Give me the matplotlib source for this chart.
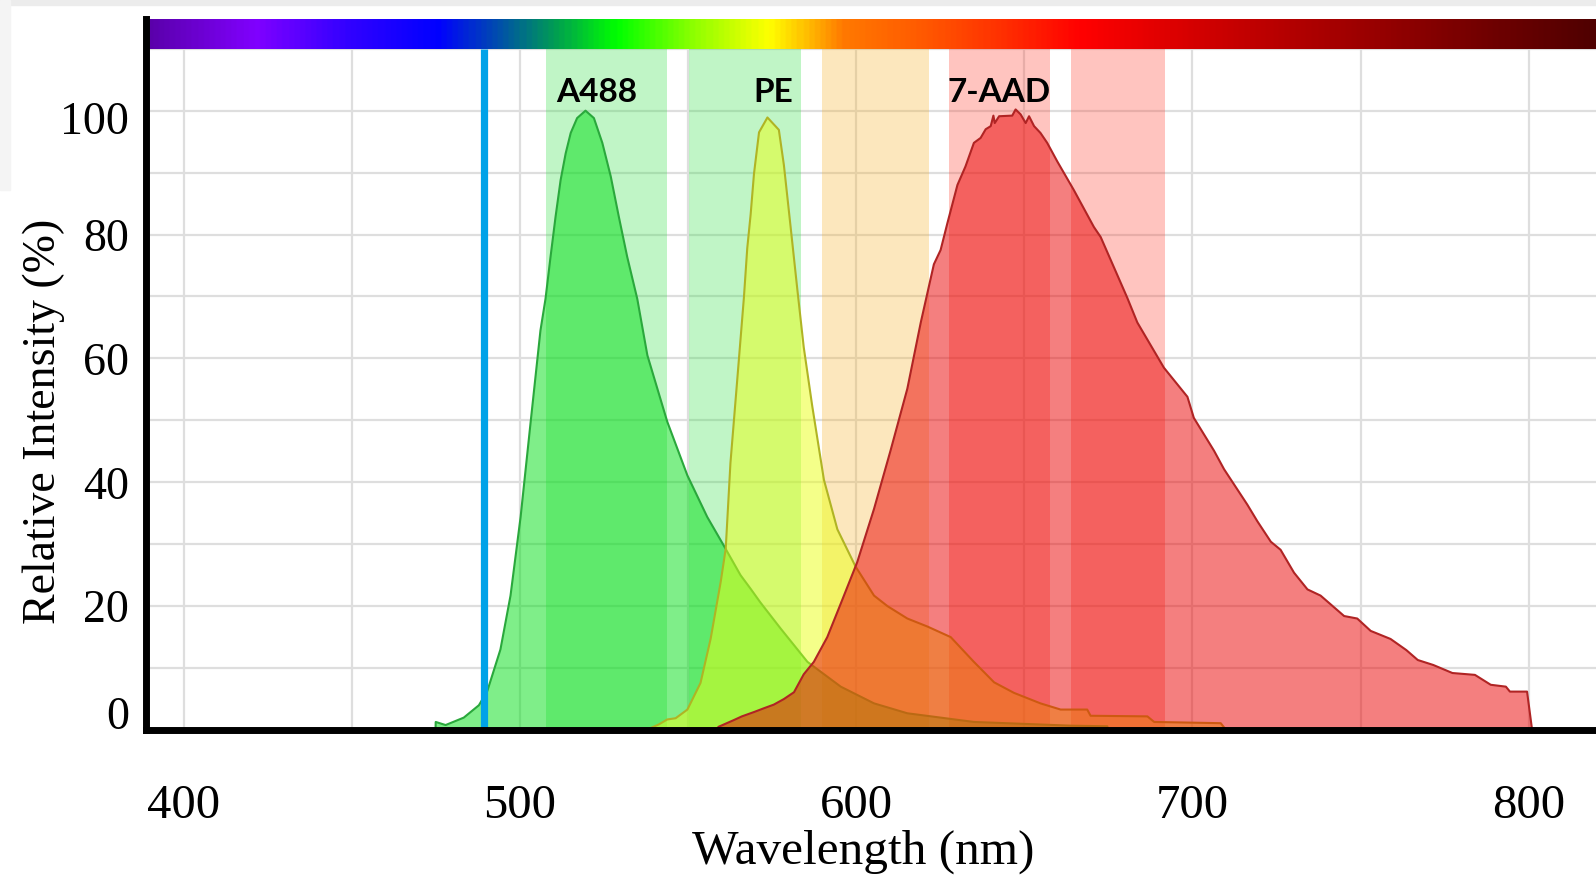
import numpy as np
import matplotlib
matplotlib.use("Agg")
import matplotlib.pyplot as plt
from matplotlib.colors import LinearSegmentedColormap
from matplotlib.patches import Rectangle
import matplotlib.transforms as mtransforms

# ---------------- data ----------------
a488_wl = [474.9, 474.95, 477.9, 483.3, 487.8, 490.3, 494.2, 497.2, 500.2, 503.2, 506.1,
           507.6, 509.1, 510.6, 512.1, 513.6, 515.1, 517.0, 519.5, 522.0, 524.5, 527.0,
           529.4, 531.9, 534.9, 537.9, 543.8, 549.8, 555.7, 560.7, 565.6, 568.6, 571.5,
           577.5, 585.5, 595.4, 605.3, 615.2, 635.0, 663.8, 674.7, 674.75]
a488_val = [0.0, 1.3, 0.8, 2.0, 4.0, 6.3, 13.0, 21.7, 34.4, 49.8, 64.5,
            69.6, 76.4, 82.9, 88.8, 93.1, 96.4, 98.8, 100.0, 98.8, 94.8, 89.4,
            82.9, 76.4, 69.6, 60.5, 49.8, 41.1, 34.4, 29.7, 25.0, 22.8, 20.6,
            16.4, 11.0, 7.0, 4.3, 2.7, 1.3, 0.7, 0.6, 0.0]

pe_wl = [537.5, 538.8, 541.3, 543.8, 546.3, 549.8, 553.7, 556.7, 559.7, 561.2, 562.6,
         564.6, 566.6, 567.6, 568.6, 569.6, 571.1, 573.6, 577.0, 578.5, 580.5, 582.5,
         584.4, 586.9, 590.4, 594.4, 599.8, 605.3, 609.3, 615.2, 621.2, 628.1, 635.0,
         641.0, 646.9, 654.8, 660.8, 668.7, 669.7, 686.6, 688.6, 708.4, 710.0]
pe_val = [0.0, 0.3, 0.9, 1.7, 1.9, 3.3, 7.6, 14.7, 23.9, 29.3, 43.1,
          56.4, 69.8, 77.8, 83.2, 89.8, 96.5, 98.9, 96.9, 91.2, 81.2, 71.1,
          61.8, 52.4, 40.4, 32.4, 26.4, 21.7, 20.0, 18.0, 16.7, 15.0, 11.0,
          7.7, 6.0, 4.3, 3.3, 3.3, 2.3, 2.2, 1.3, 1.1, 0.0]

aad_wl = [558.7, 559.0, 563.6, 566.0, 569.6, 572.5, 575.5, 578.5, 581.5, 584.4, 587.4,
          591.4, 595.4, 600.3, 605.3, 610.2, 615.2, 619.2, 623.1, 625.1, 627.1, 630.1,
          632.5, 635.0, 637.0, 638.5, 640.0, 640.8, 641.2, 642.5, 646.4, 647.4, 648.9,
          650.4, 651.4, 652.9, 654.8, 656.8, 659.8, 664.7, 670.7, 672.7, 680.6, 683.6,
          691.5, 698.5, 700.4, 706.4, 709.4, 716.3, 719.3, 723.3, 726.2, 730.2, 734.2,
          738.1, 745.1, 749.0, 753.0, 758.9, 763.6, 767.0, 771.6, 777.3, 784.0, 788.7,
          793.2, 794.4, 799.5, 801.0]
aad_val = [0.0, 0.5, 1.6, 2.2, 2.9, 3.5, 4.1, 5.0, 6.1, 9.0, 11.0,
           15.0, 20.4, 27.1, 35.7, 45.1, 55.1, 65.8, 75.2, 77.5, 81.8, 88.0,
           91.0, 94.8, 95.6, 97.0, 97.5, 99.2, 98.0, 99.1, 99.2, 100.2, 99.4,
           98.0, 99.1, 97.5, 96.4, 94.8, 91.8, 87.2, 81.2, 79.6, 69.8, 65.8,
           58.5, 53.8, 50.4, 45.1, 42.1, 36.4, 33.7, 30.4, 29.1, 25.4, 22.7,
           21.7, 18.4, 18.0, 16.0, 14.7, 12.9, 11.3, 10.5, 9.2, 8.9, 7.3,
           7.0, 6.2, 6.2, 0.0]

dye_names = ["A488", "PE", "7-AAD"]
dye_label_x = [522.7, 575.2, 642.6]

filter_lo = [507.9, 550.2, 589.9, 627.6, 663.8]
filter_hi = [543.8, 583.7, 621.6, 657.6, 691.7]

laser_nm = 489.3

x_ticks = [400, 500, 600, 700, 800]
y_ticks = [0, 20, 40, 60, 80, 100]

# ---------------- styling ----------------
W, H, DPI = 1596, 884, 100
fig = plt.figure(figsize=(W / DPI, H / DPI), dpi=DPI)
fig.patch.set_facecolor("white")
fig.patches.append(Rectangle((0, 1 - 5 / H), 1, 5 / H, transform=fig.transFigure,
                             color="#ececec", zorder=-5))
fig.patches.append(Rectangle((0, 1 - 190 / H), 10 / W, 190 / H, transform=fig.transFigure,
                             color="#f4f4f4", zorder=-5))

ax = fig.add_axes([146 / W, 1 - 730 / H, (W - 146) / W, (730 - 19) / H])
XMIN, XMAX = 388.8, 820.0
YMAX = 114.8
BAR_LO = 110.0

serif = "Liberation Serif"

# grid
ax.set_xticks(x_ticks)
ax.set_xticks(np.arange(400, 801, 50), minor=True)
ax.set_yticks(y_ticks)
ax.set_yticks(np.arange(10, 111, 20), minor=True)
ax.grid(True, which="both", color="#dedede", lw=1.6)
ax.set_axisbelow(True)

# filter bands
band_cols = ["#30de44", "#30de44", "#f8b226", "#ff3e2d", "#ff3e2d"]
for lo, hi, c in zip(filter_lo, filter_hi, band_cols):
    ax.add_patch(Rectangle((lo, 0), hi - lo, BAR_LO, facecolor=c, alpha=0.3,
                           lw=0, zorder=1))

# spectra
specs = [
    (a488_wl, a488_val, "#00de14", "#2aa83c"),
    (pe_wl, pe_val, "#ebff15", "#b0b424"),
    (aad_wl, aad_val, "#eb0000", "#b02424"),
]
z = 2.0
for wl, val, fc, ec in specs:
    ax.fill_between(wl, val, 0, facecolor=fc, alpha=0.5, lw=0, zorder=z)
    ax.plot(wl, val, color=ec, lw=1.5, zorder=z + 0.1)
    z += 0.2

# laser line
ax.plot([laser_nm, laser_nm], [0, BAR_LO], color="#00a2e8", lw=5.2,
        solid_capstyle="butt", zorder=4)

# rainbow bar
stops_nm = [388.8, 420.6, 447.8, 475.0, 493.5, 510.6, 521.9, 528.4, 551.2, 574.0,
            585.0, 596.5, 619.5, 642.2, 667.3, 711.0, 756.8, 791.0, 820.0]
stops_col = ["#5a00aa", "#8000ff", "#3200ff", "#0000ff", "#0050aa", "#00a050",
             "#00dc1e", "#00ff00", "#8cff00", "#ffff00", "#ffbe00", "#ff7800",
             "#ff5a00", "#ff3200", "#ff0000", "#c80000", "#960000", "#6e0000",
             "#500000"]
pos = [(s - XMIN) / (XMAX - XMIN) for s in stops_nm]
cmap = LinearSegmentedColormap.from_list("spec", list(zip(pos, stops_col)))
ax.imshow(np.linspace(0, 1, 800)[None, :], cmap=cmap, aspect="auto",
          extent=[XMIN, XMAX, BAR_LO, YMAX], zorder=5, interpolation="bilinear")

# dye labels
for name, x in zip(dye_names, dye_label_x):
    ax.text(x, 103.0, name, ha="center", va="center", fontsize=24,
            fontweight="bold", family="Lato", zorder=6)

ax.set_xlim(XMIN, XMAX)
ax.set_ylim(0, YMAX)

for s in ["top", "right"]:
    ax.spines[s].set_visible(False)
for s in ["left", "bottom"]:
    ax.spines[s].set_linewidth(5)
    ax.spines[s].set_color("black")
    ax.spines[s].set_zorder(7)

ax.tick_params(axis="both", which="both", length=0)
ax.tick_params(axis="x", which="major", pad=39, labelsize=35)
ax.tick_params(axis="y", which="major", pad=12, labelsize=33)
ax.set_xticklabels([str(v) for v in x_ticks], family=serif)
ax.set_yticklabels([str(v) for v in y_ticks], family=serif)

ax.set_xlabel("Wavelength (nm)", family=serif, fontsize=35.5)
ax.xaxis.set_label_coords(0.4945, -0.140)
ax.set_ylabel("Relative Intensity (%)", family=serif, fontsize=33)
ax.yaxis.set_label_coords(-0.056, 0.4346)

yt = ax.yaxis.get_major_ticks()
yt[0].label1.set_transform(yt[0].label1.get_transform() +
                           mtransforms.ScaledTranslation(0, 17 / DPI, fig.dpi_scale_trans))
yt[-1].label1.set_transform(yt[-1].label1.get_transform() +
                            mtransforms.ScaledTranslation(0, -7 / DPI, fig.dpi_scale_trans))

fig.savefig("out.png", dpi=DPI)
